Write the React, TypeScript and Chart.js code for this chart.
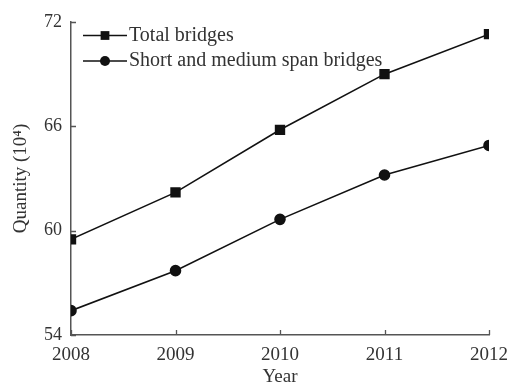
import React, { useEffect, useRef } from "react";
import { Chart, registerables } from "chart.js";

Chart.register(...registerables);

const years = [2008, 2009, 2010, 2011, 2012];
const totalBridges = [59.5, 62.2, 65.8, 69.0, 71.3];
const shortMediumBridges = [55.4, 57.7, 60.65, 63.2, 64.9];
const yTickValues = [54, 60, 66, 72];
const seriesLabels = ["Total bridges", "Short and medium span bridges"];
const xTitle = "Year";
const yTitle = "Quantity (10\u2074)";

const FONT = "'Liberation Serif', 'Times New Roman', serif";
const TEXT = "#333";
const AXIS = "#555";
const LINE = "#111";

const inwardTicks = {
  id: "inwardTicks",
  afterDraw(chart: any) {
    const ctx = chart.ctx;
    const xs = chart.scales.x;
    const ys = chart.scales.y;
    const area = chart.chartArea;
    ctx.save();
    ctx.strokeStyle = AXIS;
    ctx.lineWidth = 1.3;
    ctx.beginPath();
    xs.ticks.forEach((t: any) => {
      const px = Math.round(xs.getPixelForValue(t.value)) + 0.5;
      ctx.moveTo(px, area.bottom);
      ctx.lineTo(px, area.bottom - 5);
    });
    ys.ticks.forEach((t: any) => {
      const py = Math.round(ys.getPixelForValue(t.value)) + 0.5;
      ctx.moveTo(area.left, py);
      ctx.lineTo(area.left + 5, py);
    });
    ctx.stroke();
    ctx.restore();
  },
};

const lineLegend = {
  id: "lineLegend",
  afterDraw(chart: any) {
    const ctx = chart.ctx;
    const area = chart.chartArea;
    ctx.save();
    chart.data.datasets.forEach((ds: any, i: number) => {
      const y = area.top + 13.5 + i * 25.5;
      const x0 = area.left + 12;
      const x1 = area.left + 56;
      const cx = (x0 + x1) / 2;
      ctx.strokeStyle = ds.borderColor;
      ctx.lineWidth = ds.borderWidth;
      ctx.beginPath();
      ctx.moveTo(x0, y);
      ctx.lineTo(x1, y);
      ctx.stroke();
      ctx.fillStyle = ds.pointBackgroundColor;
      ctx.beginPath();
      if (ds.pointStyle === "rect") {
        const h = ds.pointRadius * Math.SQRT1_2;
        ctx.rect(cx - h, y - h, 2 * h, 2 * h);
      } else {
        ctx.arc(cx, y, ds.pointRadius, 0, Math.PI * 2);
      }
      ctx.fill();
      ctx.fillStyle = TEXT;
      ctx.font = `20px ${FONT}`;
      ctx.textBaseline = "middle";
      ctx.textAlign = "left";
      ctx.fillText(ds.label, x1 + 2, y);
    });
    ctx.restore();
  },
};

export default function App() {
  const ref = useRef<HTMLCanvasElement | null>(null);
  useEffect(() => {
    if (!ref.current) return;
    const chart = new Chart(ref.current, {
      type: "line",
      data: {
        datasets: [
          {
            label: seriesLabels[0],
            data: years.map((x, i) => ({ x, y: totalBridges[i] })),
            borderColor: LINE,
            backgroundColor: LINE,
            pointBackgroundColor: LINE,
            pointBorderColor: LINE,
            borderWidth: 1.6,
            pointStyle: "rect",
            pointRadius: 6.2,
            fill: false,
            tension: 0,
          },
          {
            label: seriesLabels[1],
            data: years.map((x, i) => ({ x, y: shortMediumBridges[i] })),
            borderColor: LINE,
            backgroundColor: LINE,
            pointBackgroundColor: LINE,
            pointBorderColor: LINE,
            borderWidth: 1.6,
            pointStyle: "circle",
            pointRadius: 5,
            fill: false,
            tension: 0,
          },
        ],
      },
      options: {
        animation: false,
        responsive: false,
        devicePixelRatio: 1,
        layout: { padding: { top: 22, right: 25, left: 0, bottom: 0 } },
        plugins: { legend: { display: false }, tooltip: { enabled: false } },
        scales: {
          x: {
            type: "linear",
            min: years[0],
            max: years[years.length - 1],
            afterFit: (s: any) => { s.height = 48; s.paddingLeft = 0; s.paddingRight = 0; },
            afterBuildTicks: (s: any) => { s.ticks = years.map((v) => ({ value: v })); },
            grid: { display: false, drawTicks: false },
            border: { display: true, color: AXIS, width: 1.5 },
            ticks: {
              color: TEXT,
              font: { family: FONT, size: 19 },
              padding: 9,
              maxRotation: 0,
              callback: (v: any) => String(v),
            },
            title: {
              display: true,
              text: xTitle,
              color: TEXT,
              font: { family: FONT, size: 19, lineHeight: 1 },
              padding: { top: 0, bottom: -4 },
            },
          },
          y: {
            min: yTickValues[0],
            max: yTickValues[yTickValues.length - 1],
            afterFit: (s: any) => { s.width = 71; s.paddingTop = 0; s.paddingBottom = 0; },
            afterBuildTicks: (s: any) => { s.ticks = yTickValues.map((v) => ({ value: v })); },
            grid: { display: false, drawTicks: false },
            border: { display: true, color: AXIS, width: 1.5 },
            ticks: {
              color: TEXT,
              font: { family: FONT, size: 18 },
              padding: 9,
              callback: (v: any) => String(v),
            },
            title: {
              display: true,
              text: yTitle,
              color: TEXT,
              font: { family: FONT, size: 19, lineHeight: 1 },
              padding: { top: 12, bottom: 0 },
            },
          },
        },
      },
      plugins: [inwardTicks, lineLegend],
    } as any);
    return () => chart.destroy();
  }, []);
  return (
    <div style={{ position: "fixed", left: 0, top: 0, width: 514, height: 383, background: "#fff" }}>
      <canvas ref={ref} width={514} height={383} style={{ width: 514, height: 383, display: "block" }} />
    </div>
  );
}
